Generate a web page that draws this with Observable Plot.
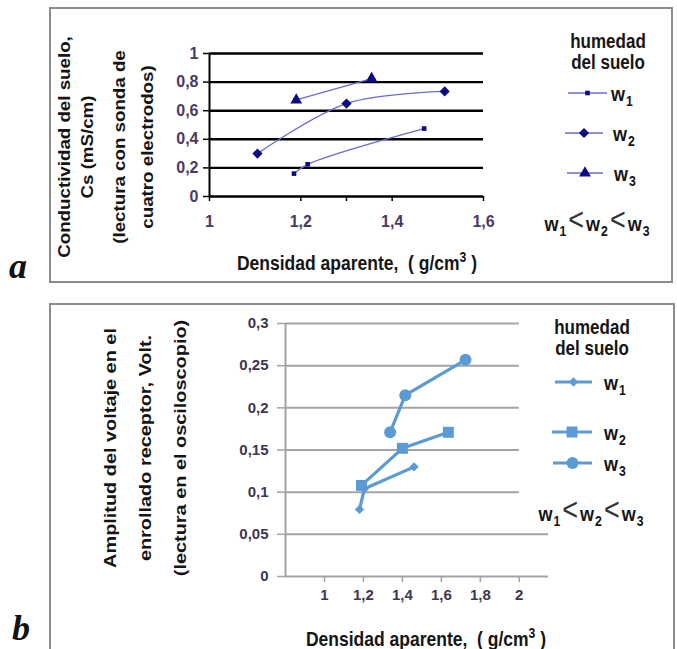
<!DOCTYPE html>
<html><head><meta charset="utf-8">
<script src="https://cdn.jsdelivr.net/npm/d3@7"></script>
<script src="https://cdn.jsdelivr.net/npm/@observablehq/plot@0.6"></script>
<style>
html,body{margin:0;padding:0;background:#fff;}
#page{position:relative;width:677px;height:649px;overflow:hidden;font-family:"Liberation Sans",Arial,sans-serif;}
.frame{position:absolute;border:2px solid #8c8c8c;box-sizing:border-box;}
.t{position:absolute;white-space:nowrap;font-weight:bold;color:#151515;line-height:1;}
.h{transform:translate(-50%,-50%) scaleY(1.17);}
.hl{transform:translate(0,-50%) scaleY(1.17);transform-origin:0 50%;}
.v{transform:translate(-50%,-50%) rotate(-90deg) scaleX(1.17);}
.t sub{font-size:68%;vertical-align:-0.35em;margin-left:1px;}
.lt{font-weight:normal;font-size:27px;margin:0 2px;position:relative;top:-1px;color:#333;}
.letter{position:absolute;font-family:"Liberation Serif","DejaVu Serif",serif;font-style:italic;font-weight:bold;font-size:36px;color:#111;line-height:1;}
.plot{position:absolute;left:0;}
.sw{position:absolute;overflow:visible;}
</style>
</head><body>
<div id="page"></div>
<script>
// ---------- Data ----------
const seriesNames = ["w1", "w2", "w3"];

// Panel a: soil conductivity vs bulk density
const aW1x = [1.185, 1.215, 1.47];
const aW1y = [0.16, 0.225, 0.475];
const aW2x = [1.105, 1.30, 1.515];
const aW2y = [0.30, 0.65, 0.735];
const aW3x = [1.19, 1.355];
const aW3y = [0.675, 0.825];

const xDomainA = [1, 1.6];
const xTicksA = [1, 1.2, 1.3, 1.4, 1.6];
const xTickLabelsA = ["1", "1,2", "", "1,4", "1,6"];
const yDomainA = [0, 1];
const yTicksA = [0, 0.2, 0.4, 0.6, 0.8, 1];
const yTickLabelsA = ["0", "0,2", "0,4", "0,6", "0,8", "1"];

// Panel b: voltage amplitude vs bulk density
const bW1x = [1.18, 1.205, 1.46];
const bW1y = [0.0795, 0.104, 0.13];
const bW2x = [1.19, 1.40, 1.636];
const bW2y = [0.108, 0.152, 0.171];
const bW3x = [1.337, 1.415, 1.724];
const bW3y = [0.171, 0.215, 0.257];

const xDomainB = [0.8, 2.15];
const xTicksB = [1, 1.2, 1.4, 1.6, 1.8, 2];
const xTickLabelsB = ["1", "1,2", "1,4", "1,6", "1,8", "2"];
const yDomainB = [0, 0.3];
const yTicksB = [0, 0.05, 0.1, 0.15, 0.2, 0.25, 0.3];
const yTickLabelsB = ["0", "0,05", "0,1", "0,15", "0,2", "0,25", "0,3"];

// Texts
const yTitleA = ["Conductividad del suelo,", "Cs (mS/cm)", "(lectura con sonda de", "cuatro electrodos)"];
const yTitleB = ["Amplitud del voltaje en el", "enrollado receptor, Volt.", "(lectura en el osciloscopio)"];
const xTitleHTML = "Densidad aparente,&nbsp;&nbsp;( g/cm<sup style='font-size:70%'>3</sup> )";
const legendTitle = ["humedad", "del suelo"];

// ---------- helpers ----------
const rows = (name, xs, ys) => xs.map((x, i) => ({series: name, x, y: ys[i]}));
const rowsA = [...rows("w1", aW1x, aW1y), ...rows("w2", aW2x, aW2y), ...rows("w3", aW3x, aW3y)];
const rowsB = [...rows("w1", bW1x, bW1y), ...rows("w2", bW2x, bW2y), ...rows("w3", bW3x, bW3y)];
const lab = (ticks, labels) => d => labels[ticks.indexOf(d)] ?? "";

const page = document.getElementById("page");
function el(cls, html, x, y, extra) {
  const d = document.createElement("div");
  d.className = cls; d.innerHTML = html;
  d.style.left = x + "px"; d.style.top = y + "px";
  if (extra) Object.assign(d.style, extra);
  page.appendChild(d); return d;
}

// frames
el("frame", "", 49, 7, {width: "624px", height: "276px"});
el("frame", "", 49, 303, {width: "626px", height: "380px"});

// ---------- Panel a ----------
const navy = "#0b0b82", lineA = "#6a6ad8";
const symA = {w1: "square", w2: "diamond2", w3: "triangle"};
const rA = {w1: 2.6, w2: 4.6, w3: 4.4};
const plotA = Plot.plot({
  width: 677, height: 290,
  marginLeft: 209, marginRight: 194, marginTop: 53, marginBottom: 94,
  x: {domain: xDomainA, ticks: xTicksA, tickFormat: lab(xTicksA, xTickLabelsA), tickSize: 5, tickPadding: 14, label: null},
  y: {domain: yDomainA, ticks: yTicksA, tickFormat: lab(yTicksA, yTickLabelsA), tickSize: 6, tickPadding: 5, label: null},
  style: {background: "transparent", fontFamily: "'Liberation Sans', Arial, sans-serif", fontSize: "16px", fontWeight: "bold", color: "#4a3a62", overflow: "visible"},
  marks: [
    Plot.ruleY(yTicksA, {stroke: "#000", strokeWidth: 2.4}),
    Plot.ruleX([xDomainA[0]], {stroke: "#000", strokeWidth: 2}),
    Plot.line(rowsA, {x: "x", y: "y", z: "series", curve: "catmull-rom", stroke: lineA, strokeWidth: 1.3}),
    ...seriesNames.map(s => Plot.dot(rowsA.filter(d => d.series === s), {x: "x", y: "y", symbol: symA[s], r: rA[s], fill: navy, stroke: "none"}))
  ]
});
plotA.classList.add("plot"); plotA.style.top = "0px"; plotA.id = "pa";
page.appendChild(plotA);

// ---------- Panel b ----------
const blue = "#5b9bd5";
const symB = {w1: "diamond2", w2: "square", w3: "circle"};
const rB = {w1: 4.2, w2: 6.2, w3: 6.0};
const plotB = Plot.plot({
  width: 677, height: 349,
  marginLeft: 285, marginRight: 129, marginTop: 23, marginBottom: 73,
  x: {domain: xDomainB, ticks: xTicksB, tickFormat: lab(xTicksB, xTickLabelsB), tickSize: 6, tickPadding: 7, label: null},
  y: {domain: yDomainB, ticks: yTicksB, tickFormat: lab(yTicksB, yTickLabelsB), tickSize: 8, tickPadding: 9, label: null},
  style: {background: "transparent", fontFamily: "'Liberation Sans', Arial, sans-serif", fontSize: "15px", fontWeight: "bold", color: "#3e3652", overflow: "visible"},
  marks: [
    Plot.ruleY(yTicksB.slice(1), {x1: xDomainB[0], x2: d => d === yTicksB[1] ? xDomainB[1] : xTicksB[xTicksB.length - 1], stroke: "#a3a3a3", strokeWidth: 2}),
    Plot.ruleY([yDomainB[0]], {stroke: "#a3a3a3", strokeWidth: 2}),
    Plot.ruleX([xDomainB[0]], {stroke: "#a3a3a3", strokeWidth: 2}),
    Plot.line(rowsB, {x: "x", y: "y", z: "series", curve: "linear", stroke: blue, strokeWidth: 3.2}),
    ...seriesNames.map(s => Plot.dot(rowsB.filter(d => d.series === s), {x: "x", y: "y", symbol: symB[s], r: rB[s], fill: blue, stroke: "none"}))
  ]
});
plotB.classList.add("plot"); plotB.style.top = "300px"; plotB.id = "pb";
page.appendChild(plotB);

// axis tick line colours
const st = document.createElement("style");
st.textContent = `#pa [aria-label^="x-axis"] line,#pa [aria-label^="x-axis"] path,#pa [aria-label^="y-axis"] line,#pa [aria-label^="y-axis"] path{stroke:#000;stroke-width:1.5}
#pb [aria-label^="x-axis"] line,#pb [aria-label^="x-axis"] path,#pb [aria-label^="y-axis"] line,#pb [aria-label^="y-axis"] path{stroke:#a3a3a3;stroke-width:1.5}`;
document.head.appendChild(st);

// ---------- Titles ----------
const xsA = [65, 88, 120, 148];
yTitleA.forEach((t, i) => el("t v", t, xsA[i], 147, {fontSize: "16px"}));
const xsB = [110, 145, 180];
yTitleB.forEach((t, i) => el("t v", t, xsB[i], 448, {fontSize: "17px"}));
el("t h", xTitleHTML, 357, 262, {fontSize: "17.5px"});
el("t h", xTitleHTML, 426, 638, {fontSize: "17.5px"});

// ---------- Legends ----------
function swatch(x1, x2, y, symbol, r, fill, stroke, sw) {
  const w = x2 - x1;
  const svg = d3.create("svg").attr("class", "sw").attr("width", w).attr("height", 20)
    .style("left", x1 + "px").style("top", (y - 10) + "px");
  svg.append("line").attr("x1", 0).attr("x2", w).attr("y1", 10).attr("y2", 10).attr("stroke", stroke).attr("stroke-width", sw);
  svg.append("path").attr("transform", `translate(${w / 2},10)`).attr("d", d3.symbol(symbol, Math.PI * r * r)()).attr("fill", fill);
  page.appendChild(svg.node());
}
const d3sym = {square: d3.symbolSquare, diamond2: d3.symbolDiamond2, triangle: d3.symbolTriangle, circle: d3.symbolCircle};

// legend a
el("t h", legendTitle[0], 608, 42, {fontSize: "17px"});
el("t h", legendTitle[1], 608, 63, {fontSize: "17px"});
const legA = [[568, 607, 93, 611], [565, 603, 133, 613], [567, 603, 173, 614]];
seriesNames.forEach((s, i) => {
  const [x1, x2, y, lx] = legA[i];
  swatch(x1, x2, y, d3sym[symA[s]], rA[s], navy, lineA, 1.3);
  el("t hl", `w<sub>${i + 1}</sub>`, lx, y + 3, {fontSize: "18px"});
});
el("t h", `w<sub>1</sub><span class="lt">&lt;</span>w<sub>2</sub><span class="lt">&lt;</span>w<sub>3</sub>`, 597, 222, {fontSize: "18px"});

// legend b
el("t h", legendTitle[0], 592, 328, {fontSize: "17px"});
el("t h", legendTitle[1], 592, 349, {fontSize: "17px"});
const legB = [[555, 592, 382, 604], [552, 592, 432, 604], [553, 592, 463, 604]];
seriesNames.forEach((s, i) => {
  const [x1, x2, y, lx] = legB[i];
  swatch(x1, x2, y, d3sym[symB[s]], rB[s], blue, blue, 3);
  el("t hl", `w<sub>${i + 1}</sub>`, lx, y + 3, {fontSize: "18px"});
});
el("t h", `w<sub>1</sub><span class="lt">&lt;</span>w<sub>2</sub><span class="lt">&lt;</span>w<sub>3</sub>`, 591, 512, {fontSize: "18px"});

// panel letters
el("letter", "a", 9, 248);
el("letter", "b", 12, 610);
</script>
</body></html>
